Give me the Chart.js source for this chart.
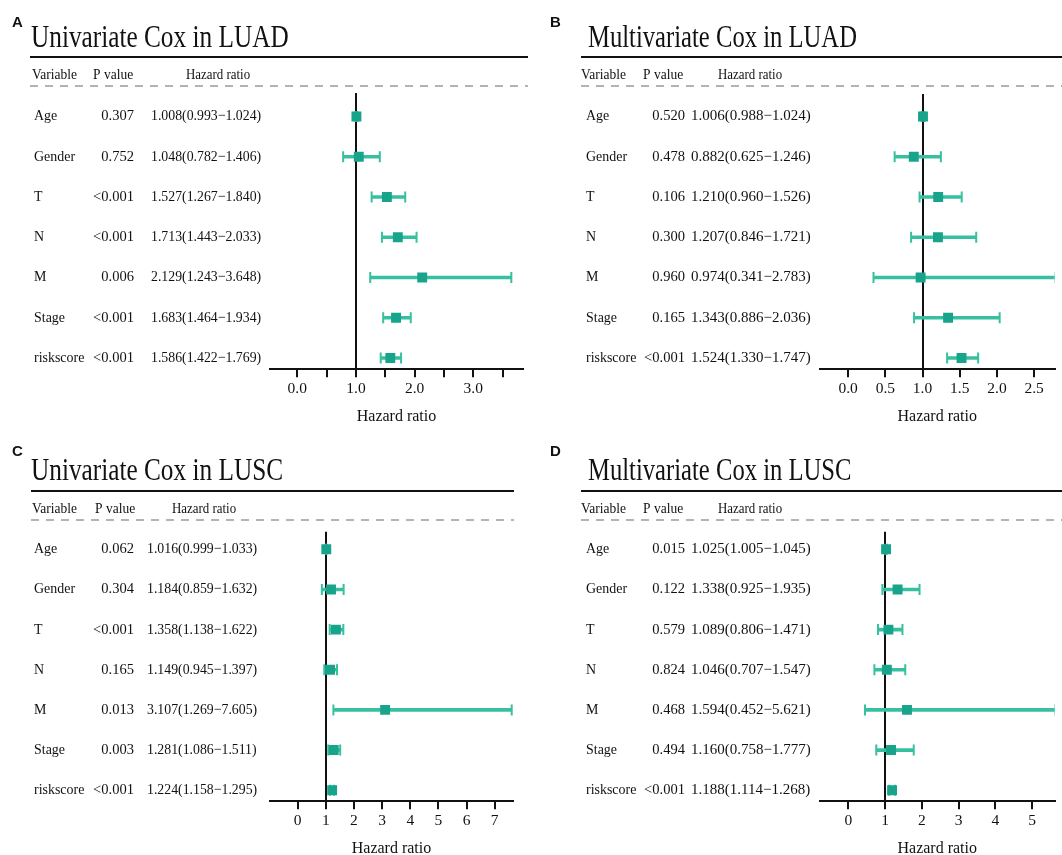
<!DOCTYPE html>
<html>
<head>
<meta charset="utf-8">
<style>
    html, body {
        margin: 0;
        padding: 0;
        background: #fff;
        overflow: hidden;
    }
    canvas {
        position: absolute;
    }
</style>
</head>
<body>
    <canvas id="panelA" width="531" height="430" style="left:0px;top:0px"></canvas>
    <canvas id="panelB" width="531" height="430" style="left:531px;top:0px"></canvas>
    <canvas id="panelC" width="531" height="430" style="left:0px;top:433px"></canvas>
    <canvas id="panelD" width="531" height="430" style="left:531px;top:433px"></canvas>

<script src="https://cdn.jsdelivr.net/npm/chart.js"></script>
<script>
    const variables = ['Age', 'Gender', 'T', 'N', 'M', 'Stage', 'riskscore'];

    // A - univariate LUAD
    const pValueA = ['0.307', '0.752', '<0.001', '<0.001', '0.006', '<0.001', '<0.001'];
    const hrA = [1.008, 1.048, 1.527, 1.713, 2.129, 1.683, 1.586];
    const lowA = [0.993, 0.782, 1.267, 1.443, 1.243, 1.464, 1.422];
    const highA = [1.024, 1.406, 1.840, 2.033, 3.648, 1.934, 1.769];

    // B - multivariate LUAD
    const pValueB = ['0.520', '0.478', '0.106', '0.300', '0.960', '0.165', '<0.001'];
    const hrB = [1.006, 0.882, 1.210, 1.207, 0.974, 1.343, 1.524];
    const lowB = [0.988, 0.625, 0.960, 0.846, 0.341, 0.886, 1.330];
    const highB = [1.024, 1.246, 1.526, 1.721, 2.783, 2.036, 1.747];

    // C - univariate LUSC
    const pValueC = ['0.062', '0.304', '<0.001', '0.165', '0.013', '0.003', '<0.001'];
    const hrC = [1.016, 1.184, 1.358, 1.149, 3.107, 1.281, 1.224];
    const lowC = [0.999, 0.859, 1.138, 0.945, 1.269, 1.086, 1.158];
    const highC = [1.033, 1.632, 1.622, 1.397, 7.605, 1.511, 1.295];

    // D - multivariate LUSC
    const pValueD = ['0.015', '0.122', '0.579', '0.824', '0.468', '0.494', '<0.001'];
    const hrD = [1.025, 1.338, 1.089, 1.046, 1.594, 1.160, 1.188];
    const lowD = [1.005, 0.925, 0.806, 0.707, 0.452, 0.758, 1.114];
    const highD = [1.045, 1.935, 1.471, 1.547, 5.621, 1.777, 1.268];

    // x axis ticks
    const ticksA = [0, 0.5, 1, 1.5, 2, 2.5, 3, 3.5];
    const tickLabelsA = ['0.0', '', '1.0', '', '2.0', '', '3.0', ''];
    const ticksB = [0, 0.5, 1, 1.5, 2, 2.5];
    const tickLabelsB = ['0.0', '0.5', '1.0', '1.5', '2.0', '2.5'];
    const ticksC = [0, 1, 2, 3, 4, 5, 6, 7];
    const tickLabelsC = ['0', '1', '2', '3', '4', '5', '6', '7'];
    const ticksD = [0, 1, 2, 3, 4, 5];
    const tickLabelsD = ['0', '1', '2', '3', '4', '5'];

    const CI_COLOR = '#36c09f';
    const BOX_COLOR = '#18a38b';
    const INK = '#111';
    const SERIF = '"Liberation Serif", "Times New Roman", serif';

    // squeezed text, the original figure is a bit narrow
    const drawText = (ctx, s, x, y, font, sx, align, baseline) => {
        ctx.save();
        ctx.font = font;
        ctx.textAlign = align;
        ctx.textBaseline = baseline;
        ctx.translate(x, y);
        ctx.scale(sx, 1);
        ctx.fillText(s, 0, 0);
        ctx.restore();
    }

    const tablePlugin = (letter, title, pValues, hr, low, high, L) => ({
        id: 'forestTable',
        afterDraw(chart) {
            const ctx = chart.ctx;
            const yScale = chart.scales.y;
            ctx.save();
            ctx.fillStyle = INK;

            ctx.font = 'bold 15px "Liberation Sans", Arial, sans-serif';
            ctx.textAlign = 'left';
            ctx.textBaseline = 'alphabetic';
            ctx.fillText(letter, L.letterX, L.letterY);

            drawText(ctx, title, L.titleX, L.titleY, `32px ${SERIF}`, L.titleSx, 'left', 'alphabetic');

            ctx.strokeStyle = INK;
            ctx.lineWidth = 2;
            ctx.beginPath();
            ctx.moveTo(L.lineX0, L.topLineY);
            ctx.lineTo(L.lineX1, L.topLineY);
            ctx.stroke();

            const headFont = `15px ${SERIF}`;
            drawText(ctx, 'Variable', L.headX[0], L.headY, headFont, 0.9, 'left', 'middle');
            drawText(ctx, 'P value', L.headX[1], L.headY, headFont, 0.9, 'left', 'middle');
            drawText(ctx, 'Hazard ratio', L.headX[2], L.headY, headFont, 0.86, 'left', 'middle');

            ctx.strokeStyle = '#9a9a9a';
            ctx.lineWidth = 1.3;
            ctx.setLineDash([8, 7]);
            ctx.beginPath();
            ctx.moveTo(L.lineX0, L.dashY);
            ctx.lineTo(L.lineX1, L.dashY);
            ctx.stroke();
            ctx.setLineDash([]);

            const rowFont = `15px ${SERIF}`;
            variables.forEach((v, i) => {
                const y = yScale.getPixelForValue(i + 1);
                const hrText = `${hr[i].toFixed(3)}(${low[i].toFixed(3)}\u2212${high[i].toFixed(3)})`;
                drawText(ctx, v, L.varX, y, rowFont, 0.93, 'left', 'middle');
                drawText(ctx, pValues[i], L.pRight, y, rowFont, 0.97, 'right', 'middle');
                drawText(ctx, hrText, L.hrX, y, rowFont, L.hrSx, 'left', 'middle');
            });
            ctx.restore();
        }
    });

    const forest = (canvasId, letter, title, pValues, hr, low, high, ticks, tickLabels, xMin, xMax, L) => {
        const rows = variables.map((v, i) => i + 1);
        const ctx = document.getElementById(canvasId).getContext('2d');
        return new Chart(ctx, {
            type: 'scatter',
            data: {
                datasets: [
                    {
                        type: 'bar',
                        indexAxis: 'y',
                        data: rows.map((r, i) => ({ x: [low[i], high[i]], y: r })),
                        backgroundColor: CI_COLOR,
                        barThickness: 3,
                        order: 3
                    },
                    {
                        data: rows.flatMap((r, i) => [{ x: low[i], y: r }, { x: high[i], y: r }]),
                        pointStyle: 'line',
                        pointRotation: 90,
                        pointRadius: 5.5,
                        pointBorderColor: CI_COLOR,
                        pointBorderWidth: 2,
                        order: 2
                    },
                    {
                        data: rows.map((r, i) => ({ x: hr[i], y: r })),
                        pointStyle: 'rect',
                        pointRadius: 7,
                        pointBackgroundColor: BOX_COLOR,
                        pointBorderColor: BOX_COLOR,
                        pointBorderWidth: 0,
                        order: 1
                    }
                ]
            },
            options: {
                responsive: false,
                animation: false,
                devicePixelRatio: 1,
                events: [],
                layout: {
                    padding: { left: L.axisLeft, right: 531 - L.axisRight, top: L.refTop, bottom: L.padBottom }
                },
                plugins: {
                    legend: { display: false },
                    tooltip: { enabled: false }
                },
                scales: {
                    x: {
                        type: 'linear',
                        min: xMin,
                        max: xMax,
                        offset: false,
                        afterBuildTicks: (scale) => {
                            scale.ticks = ticks.map(v => ({ value: v }));
                        },
                        ticks: {
                            autoSkip: false,
                            maxRotation: 0,
                            padding: 2,
                            color: INK,
                            font: { family: SERIF, size: 15.5 },
                            callback: (value, index) => tickLabels[index]
                        },
                        grid: {
                            offset: false,
                            drawOnChartArea: true,
                            color: (c) => (c.tick && c.tick.value === 1) ? INK : 'rgba(0,0,0,0)',
                            lineWidth: 2,
                            tickColor: INK,
                            tickWidth: 2,
                            tickLength: 8
                        },
                        border: { display: true, color: INK, width: 2 },
                        title: {
                            display: true,
                            text: 'Hazard ratio',
                            color: INK,
                            font: { family: SERIF, size: 16 },
                            padding: { top: 7, bottom: 0 }
                        }
                    },
                    y: {
                        type: 'linear',
                        display: false,
                        reverse: true,
                        offset: false,
                        grid: { offset: false },
                        min: L.yMin,
                        max: L.yMax
                    }
                }
            },
            plugins: [tablePlugin(letter, title, pValues, hr, low, high, L)]
        });
    }

    const layoutA = {
        letterX: 12, letterY: 27, titleX: 31, titleY: 47, titleSx: 0.79,
        lineX0: 30, lineX1: 528, topLineY: 57, headY: 75, headX: [32, 93, 186], dashY: 86,
        varX: 34, pRight: 134, hrX: 151, hrSx: 0.92,
        axisLeft: 270, axisRight: 523, refTop: 93, padBottom: 4, yMin: 0.416, yMax: 7.279
    };
    const layoutB = {
        letterX: 19, letterY: 27, titleX: 57, titleY: 47, titleSx: 0.77,
        lineX0: 50, lineX1: 531, topLineY: 57, headX: [50, 112, 187], headY: 75, dashY: 86,
        varX: 55, pRight: 154, hrX: 160, hrSx: 1.0,
        axisLeft: 289, axisRight: 531, refTop: 94, padBottom: 4, yMin: 0.441, yMax: 7.279
    };
    const layoutC = {
        letterX: 12, letterY: 23, titleX: 31, titleY: 47, titleSx: 0.79,
        lineX0: 31, lineX1: 514, topLineY: 58, headY: 76, headX: [32, 95, 172], dashY: 87,
        varX: 34, pRight: 134, hrX: 147, hrSx: 0.92,
        axisLeft: 270, axisRight: 513, refTop: 98.7, padBottom: 5, yMin: 0.561, yMax: 7.274
    };
    const layoutD = {
        letterX: 19, letterY: 23, titleX: 57, titleY: 47, titleSx: 0.77,
        lineX0: 50, lineX1: 531, topLineY: 58, headX: [50, 112, 187], headY: 76, dashY: 87,
        varX: 55, pRight: 154, hrX: 160, hrSx: 1.0,
        axisLeft: 289, axisRight: 531, refTop: 98.7, padBottom: 5, yMin: 0.561, yMax: 7.274
    };

    forest('panelA', 'A', 'Univariate Cox in LUAD', pValueA, hrA, lowA, highA, ticksA, tickLabelsA, -0.465, 3.847, layoutA);
    forest('panelB', 'B', 'Multivariate Cox in LUAD', pValueB, hrB, lowB, highB, ticksB, tickLabelsB, -0.378, 2.773, layoutB);
    forest('panelC', 'C', 'Univariate Cox in LUSC', pValueC, hrC, lowC, highC, ticksC, tickLabelsC, -0.984, 7.651, layoutC);
    forest('panelD', 'D', 'Multivariate Cox in LUSC', pValueD, hrD, lowD, highD, ticksD, tickLabelsD, -0.772, 5.606, layoutD);
</script>
</body>
</html>
